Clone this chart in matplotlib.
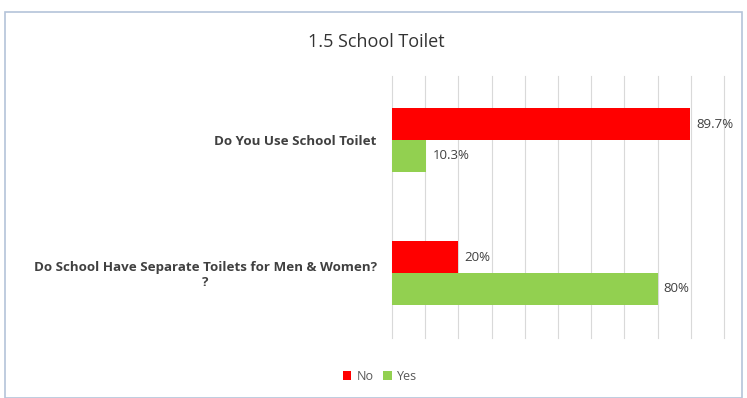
import matplotlib
matplotlib.use("Agg")
import matplotlib.pyplot as plt
from matplotlib.patches import Rectangle

title = "1.5 School Toilet"
categories = ["Do You Use School Toilet",
              "Do School Have Separate Toilets for Men & Women?\n?"]
series_names = ["No", "Yes"]
no_values = [89.7, 20]
yes_values = [10.3, 80]
no_labels = ["89.7%", "20%"]
yes_labels = ["10.3%", "80%"]
colors = {"No": "#FF0000", "Yes": "#92D050"}

plt.rcParams['font.family'] = ['Open Sans', 'DejaVu Sans']

fig = plt.figure(figsize=(7.47, 3.98), dpi=100)
fig.patch.set_facecolor("white")
fig.patches.append(Rectangle((5/747, 0.0), 737/747, 1 - 12/398, transform=fig.transFigure,
                             fill=False, edgecolor="#B4C3D9", linewidth=1.2))

ax = fig.add_axes([392/747, 1 - 338/398, 332/747, 262/398])
h = 0.24
ys = list(range(len(categories)))
bn = ax.barh([y - h/2 for y in ys], no_values, height=h, color=colors["No"], label="No", zorder=3)
by = ax.barh([y + h/2 for y in ys], yes_values, height=h, color=colors["Yes"], label="Yes", zorder=3)
for rect, lab in zip(bn, no_labels):
    ax.annotate(lab, (rect.get_width(), rect.get_y() + rect.get_height()/2), xytext=(4.5, 0),
                textcoords="offset points", va="center", ha="left", fontsize=9.5, color="#404040")
for rect, lab in zip(by, yes_labels):
    ax.annotate(lab, (rect.get_width(), rect.get_y() + rect.get_height()/2), xytext=(4.5, 0),
                textcoords="offset points", va="center", ha="left", fontsize=9.5, color="#404040")

ax.set_xlim(0, 100)
ax.set_ylim(1.489, -0.481)
ax.set_xticks(range(0, 101, 10))
ax.set_xticklabels([])
ax.tick_params(axis="x", length=0)
ax.tick_params(axis="y", length=0, pad=11)
ax.set_yticks(ys)
ax.set_yticklabels(categories, fontsize=9.6, fontweight="bold", color="#404040")
for t in ax.get_yticklabels():
    t.set_multialignment("center")
ax.grid(axis="x", color="#D9D9D9", linewidth=0.8, zorder=0)
for gl in ax.get_xgridlines():
    gl.set_clip_on(False)
for s in ax.spines.values():
    s.set_visible(False)

fig.text(376/747, 1 - 42/398, title, ha="center", va="center", fontsize=13, color="#333333")

fig.legend(handles=[bn, by], labels=series_names, loc="center", bbox_to_anchor=(380/747, 1 - 376/398),
           ncol=2, frameon=False, fontsize=9, handlelength=0.7, handleheight=0.7,
           columnspacing=0.8, handletextpad=0.4, labelcolor="#595959")

fig.savefig("out.png", dpi=100)
